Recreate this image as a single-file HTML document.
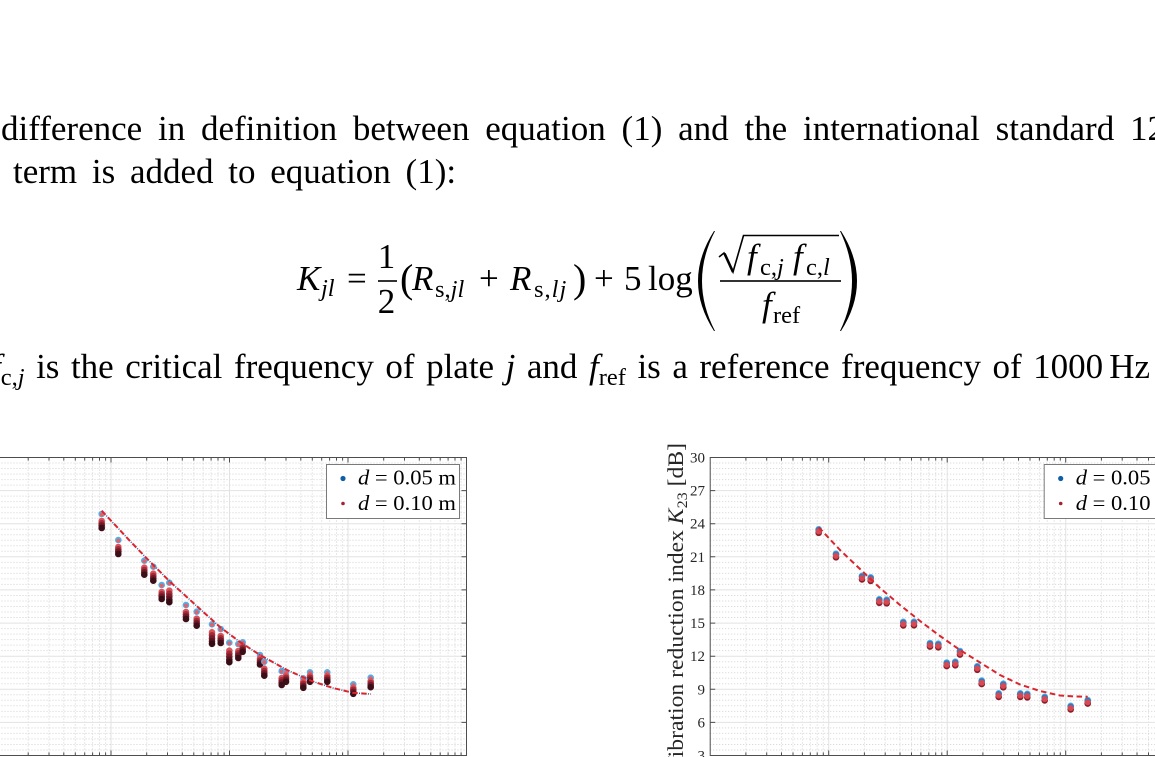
<!DOCTYPE html>
<html>
<head>
<meta charset="utf-8">
<style>
  html,body{margin:0;padding:0;background:#fff;}
  body{width:1155px;height:757px;overflow:hidden;position:relative;}
  .t{position:absolute;font-family:"Liberation Serif",serif;font-size:35px;line-height:35px;color:#000;}
  .j{text-align:justify;text-align-last:justify;}
  .s{font-size:24.5px;position:relative;top:7px;line-height:35px;}
  svg{position:absolute;left:0;top:0;}
</style>
</head>
<body>

<div class="t j" style="left:1px;top:110.5px;width:1164px;">difference in definition between equation (1) and the international standard 12</div>
<div class="t" style="left:13px;top:154px;word-spacing:6px;white-space:nowrap;">term is added to equation (1):</div>
<div class="t j" style="left:-9px;top:349px;width:1159px;"><i>f</i><span class="s">c,<i>j</i></span> is the critical frequency of plate <i>j</i> and <i>f</i><span class="s">ref</span> is a reference frequency of 1000<span style="margin-left:6px">Hz</span></div>

<svg width="1155" height="757" viewBox="0 0 1155 757" font-family="Liberation Serif, serif">
<defs>
  <g id="frame">
    <path fill="none" stroke="#d2d2d2" stroke-width="1" stroke-dasharray="1 2"
      d="M-7.5 463h474M-7.5 468.5h474M-7.5 474.1h474M-7.5 479.6h474M-7.5 485.1h474M-7.5 496.1h474M-7.5 501.6h474M-7.5 507.2h474M-7.5 512.7h474M-7.5 518.2h474M-7.5 529.2h474M-7.5 534.8h474M-7.5 540.3h474M-7.5 545.8h474M-7.5 551.3h474M-7.5 562.4h474M-7.5 567.9h474M-7.5 573.4h474M-7.5 578.9h474M-7.5 584.4h474M-7.5 595.5h474M-7.5 601h474M-7.5 606.5h474M-7.5 612h474M-7.5 617.5h474M-7.5 628.6h474M-7.5 634.1h474M-7.5 639.6h474M-7.5 645.1h474M-7.5 650.6h474M-7.5 661.7h474M-7.5 667.2h474M-7.5 672.7h474M-7.5 678.2h474M-7.5 683.8h474M-7.5 694.8h474M-7.5 700.3h474M-7.5 705.8h474M-7.5 711.4h474M-7.5 716.9h474M-7.5 727.9h474M-7.5 733.4h474M-7.5 738.9h474M-7.5 744.5h474M-7.5 750h474"/>
    <path fill="none" stroke="#d2d2d2" stroke-width="1" stroke-dasharray="1 2"
      d="M28.2 457.5v298M49 457.5v298M63.8 457.5v298M75.3 457.5v298M84.7 457.5v298M92.6 457.5v298M99.5 457.5v298M105.6 457.5v298M146.7 457.5v298M167.5 457.5v298M182.3 457.5v298M193.8 457.5v298M203.2 457.5v298M211.1 457.5v298M218 457.5v298M224.1 457.5v298M265.2 457.5v298M286 457.5v298M300.8 457.5v298M312.3 457.5v298M321.7 457.5v298M329.6 457.5v298M336.5 457.5v298M342.6 457.5v298M383.7 457.5v298M404.5 457.5v298M419.3 457.5v298M430.8 457.5v298M440.2 457.5v298M448.1 457.5v298M455 457.5v298M461.1 457.5v298"/>
    <path fill="none" stroke="#e2e2e2" stroke-width="1"
      d="M-7.5 490.6h474M-7.5 523.7h474M-7.5 556.8h474M-7.5 589.9h474M-7.5 623.1h474M-7.5 656.2h474M-7.5 689.3h474M-7.5 722.4h474M111 457.5v298M229.5 457.5v298M348 457.5v298"/>
    <rect x="-7.5" y="457.5" width="474" height="298" fill="none" stroke="#4d4d4d" stroke-width="1"/>
    <path fill="none" stroke="#4d4d4d" stroke-width="1"
      d="M28.2 457.5v3M49 457.5v3M63.8 457.5v3M75.3 457.5v3M84.7 457.5v3M92.6 457.5v3M99.5 457.5v3M105.6 457.5v3M146.7 457.5v3M167.5 457.5v3M182.3 457.5v3M193.8 457.5v3M203.2 457.5v3M211.1 457.5v3M218 457.5v3M224.1 457.5v3M265.2 457.5v3M286 457.5v3M300.8 457.5v3M312.3 457.5v3M321.7 457.5v3M329.6 457.5v3M336.5 457.5v3M342.6 457.5v3M383.7 457.5v3M404.5 457.5v3M419.3 457.5v3M430.8 457.5v3M440.2 457.5v3M448.1 457.5v3M455 457.5v3M461.1 457.5v3
         M28.2 755.5v-3M49 755.5v-3M63.8 755.5v-3M75.3 755.5v-3M84.7 755.5v-3M92.6 755.5v-3M99.5 755.5v-3M105.6 755.5v-3M146.7 755.5v-3M167.5 755.5v-3M182.3 755.5v-3M193.8 755.5v-3M203.2 755.5v-3M211.1 755.5v-3M218 755.5v-3M224.1 755.5v-3M265.2 755.5v-3M286 755.5v-3M300.8 755.5v-3M312.3 755.5v-3M321.7 755.5v-3M329.6 755.5v-3M336.5 755.5v-3M342.6 755.5v-3M383.7 755.5v-3M404.5 755.5v-3M419.3 755.5v-3M430.8 755.5v-3M440.2 755.5v-3M448.1 755.5v-3M455 755.5v-3M461.1 755.5v-3
         M111 457.5v5M229.5 457.5v5M348 457.5v5M111 755.5v-5M229.5 755.5v-5M348 755.5v-5
         M-7.5 490.6h5M-7.5 523.7h5M-7.5 556.8h5M-7.5 589.9h5M-7.5 623.1h5M-7.5 656.2h5M-7.5 689.3h5M-7.5 722.4h5
         M466.5 490.6h-5M466.5 523.7h-5M466.5 556.8h-5M466.5 589.9h-5M466.5 623.1h-5M466.5 656.2h-5M466.5 689.3h-5M466.5 722.4h-5"/>
  </g>

  <g id="tA">
    <circle cy="0" r="3.3" fill="#4fb1ea"/>
    <circle cy="0.6" r="2" fill="#e2616a"/>
    <circle cy="7" r="3.3" fill="#d9535c"/>
    <circle cy="9.3" r="3.3" fill="#a52a38"/>
    <circle cy="11.6" r="3.3" fill="#701a27"/>
    <circle cy="14" r="3.3" fill="#3c0e17"/>
  </g>
  <g id="tB">
    <circle cy="0" r="3.3" fill="#4fb1ea"/>
    <circle cy="0.6" r="2" fill="#e2616a"/>
    <circle cy="8" r="3.3" fill="#d9535c"/>
    <circle cy="11" r="3.3" fill="#a52a38"/>
    <circle cy="14" r="3.3" fill="#7a1c2a"/>
    <circle cy="17" r="3.3" fill="#541420"/>
    <circle cy="19.5" r="3.3" fill="#360c14"/>
  </g>
  <g id="tC">
    <circle cy="0" r="3.3" fill="#4fb1ea"/>
    <circle cy="0.6" r="2" fill="#e2616a"/>
    <circle cy="3.5" r="3.3" fill="#d9535c"/>
    <circle cy="5.5" r="3.3" fill="#a52a38"/>
    <circle cy="7.5" r="3.3" fill="#701a27"/>
    <circle cy="9.5" r="3.3" fill="#3c0e17"/>
  </g>
  <g id="tR">
    <circle cy="-2" r="3.3" fill="#4fb1ea"/>
    <circle cy="-1" r="3.3" fill="#2d7cc2"/>
    <circle cy="1.6" r="3.3" fill="#8c1d2b"/>
    <circle cy="0.2" r="3" fill="#d84a53"/>
  </g>

  <g id="leg">
    <rect x="326.5" y="464.5" width="133" height="54" fill="#fff" stroke="#7a7a7a" stroke-width="1"/>
    <circle cx="343" cy="478.5" r="2.6" fill="#0f5fa6"/>
    <circle cx="343" cy="503.5" r="1.8" fill="#a3242d"/>
    <text x="358" y="484.5" font-size="21" textLength="98" lengthAdjust="spacingAndGlyphs"><tspan font-style="italic">d</tspan> = 0.05 m</text>
    <text x="358" y="510" font-size="21" textLength="98" lengthAdjust="spacingAndGlyphs"><tspan font-style="italic">d</tspan> = 0.10 m</text>
  </g>
</defs>

<use href="#frame"/>
<use href="#frame" x="717.7"/>

<!-- left data -->
<use href="#tA" x="101.7" y="514"/>
<use href="#tA" x="118.3" y="540"/>
<use href="#tA" x="144.3" y="560.7"/>
<use href="#tA" x="153.3" y="566.7"/>
<use href="#tA" x="161.7" y="585"/>
<use href="#tB" x="169.3" y="582.7"/>
<use href="#tA" x="186" y="605"/>
<use href="#tA" x="196.7" y="611.7"/>
<use href="#tB" x="212" y="624.3"/>
<use href="#tA" x="220.7" y="629"/>
<use href="#tB" x="229.3" y="642.7"/>
<use href="#tA" x="238.3" y="644"/>
<use href="#tC" x="242.7" y="642.3"/>
<use href="#tC" x="260" y="655"/>
<use href="#tA" x="264.3" y="661.7"/>
<use href="#tA" x="281.7" y="671"/>
<use href="#tC" x="286" y="672.3"/>
<use href="#tC" x="303.3" y="678.3"/>
<use href="#tC" x="310" y="672.3"/>
<use href="#tC" x="327.3" y="672.3"/>
<use href="#tC" x="353.3" y="684.3"/>
<use href="#tC" x="370.7" y="677.7"/>

<!-- right data -->
<use href="#tR" x="818.7" y="531.2"/>
<use href="#tR" x="836" y="555.7"/>
<use href="#tR" x="862" y="577.8"/>
<use href="#tR" x="870.7" y="579.3"/>
<use href="#tR" x="879.3" y="601.2"/>
<use href="#tR" x="886.7" y="601.7"/>
<use href="#tR" x="903.3" y="623.8"/>
<use href="#tR" x="914" y="623.7"/>
<use href="#tR" x="930" y="645"/>
<use href="#tR" x="938.3" y="645.7"/>
<use href="#tR" x="946.7" y="664.5"/>
<use href="#tR" x="955.3" y="663.7"/>
<use href="#tR" x="960" y="653"/>
<use href="#tR" x="977.3" y="668.2"/>
<use href="#tR" x="981.7" y="682.5"/>
<use href="#tR" x="998.7" y="695.3"/>
<use href="#tR" x="1003.3" y="685.7"/>
<use href="#tR" x="1020.3" y="695.3"/>
<use href="#tR" x="1027.3" y="695.8"/>
<use href="#tR" x="1044.7" y="698.8"/>
<use href="#tR" x="1070.7" y="707.8"/>
<use href="#tR" x="1087.7" y="702"/>

<!-- dashed fits -->
<g fill="none" stroke-linejoin="round">
  <path d="M101.7 510.7L116.7 526.7L130 541L146.7 558.3L170 581.7L200 609L220 627L240 642L260 655L287 670L313 681.5L333 688L353 692.8L370.7 694" stroke="#2b64ad" stroke-width="1.5" stroke-dasharray="1 8" stroke-dashoffset="-6.8"/>
  <path d="M101.7 510.7L116.7 526.7L130 541L146.7 558.3L170 581.7L200 609L220 627L240 642L260 655L287 670L313 681.5L333 688L353 692.8L370.7 694" stroke="#d9252e" stroke-width="2" stroke-dasharray="5.5 3.5"/>
  <path d="M818.7 527.3L840 550L860 569L880 588L900 605L920 621L940 636L960 650L980 662.5L1000 675L1020 684.5L1040 691L1060 695.5L1075 696.5L1087.7 696.7" stroke="#d9252e" stroke-width="2" stroke-dasharray="5.5 3.5"/>
</g>

<use href="#leg"/>
<use href="#leg" x="717.7"/>

<!-- right plot tick labels -->
<g font-size="15" fill="#262626" text-anchor="end">
  <text x="705" y="462.5">30</text>
  <text x="705" y="495.6">27</text>
  <text x="705" y="528.7">24</text>
  <text x="705" y="561.8">21</text>
  <text x="705" y="594.9">18</text>
  <text x="705" y="628.1">15</text>
  <text x="705" y="661.2">12</text>
  <text x="705" y="694.3">9</text>
  <text x="705" y="727.4">6</text>
  <text x="705" y="760.5">3</text>
</g>
<text transform="translate(683,608) rotate(-90)" text-anchor="middle" font-size="22" fill="#262626" textLength="330" lengthAdjust="spacingAndGlyphs">Vibration reduction index <tspan font-style="italic">K</tspan><tspan font-size="15" dy="4">23</tspan><tspan dy="-4"> [dB]</tspan></text>

<!-- equation -->
<g font-size="35" fill="#000">
  <text x="297" y="290" font-style="italic">K</text>
  <text x="321" y="296" font-size="24.5" font-style="italic">jl</text>
  <text x="347" y="290">=</text>
  <text x="386.5" y="268" text-anchor="middle">1</text>
  <rect x="378" y="280.2" width="19" height="1.6"/>
  <text x="386.5" y="313" text-anchor="middle">2</text>
  <text x="400" y="292" font-size="40">(</text>
  <text x="412" y="290" font-style="italic">R</text>
  <text x="435" y="297" font-size="24.5">s,<tspan font-style="italic">jl</tspan></text>
  <text x="479" y="290">+</text>
  <text x="510" y="290" font-style="italic">R</text>
  <text x="534" y="297" font-size="24.5" letter-spacing="1">s,<tspan font-style="italic">lj</tspan></text>
  <text x="573" y="292" font-size="40">)</text>
  <text x="594" y="290">+</text>
  <text x="624" y="290">5</text>
  <text x="648" y="290">log</text>
  <path d="M714 231Q682 281 714 331L715 331Q689 281 715 231Z"/>
  <path d="M841 231Q873 281 841 331L840 331Q864 281 840 231Z"/>
  <path d="M719 257L724 253L733 272L743.5 235.5L839 235.5" fill="none" stroke="#000" stroke-width="1.6" stroke-linejoin="miter"/>
  <path d="M724.5 253.5L733 272" fill="none" stroke="#000" stroke-width="2.6"/>
  <text x="747" y="268" font-style="italic">f</text>
  <text x="760" y="275" font-size="24.5">c,<tspan font-style="italic">j</tspan></text>
  <text x="793" y="268" font-style="italic">f</text>
  <text x="806" y="275" font-size="24.5">c,<tspan font-style="italic">l</tspan></text>
  <rect x="720" y="280.2" width="121" height="1.6"/>
  <text x="762" y="316" font-style="italic">f</text>
  <text x="773" y="323" font-size="24.5">ref</text>
</g>
</svg>

</body>
</html>
